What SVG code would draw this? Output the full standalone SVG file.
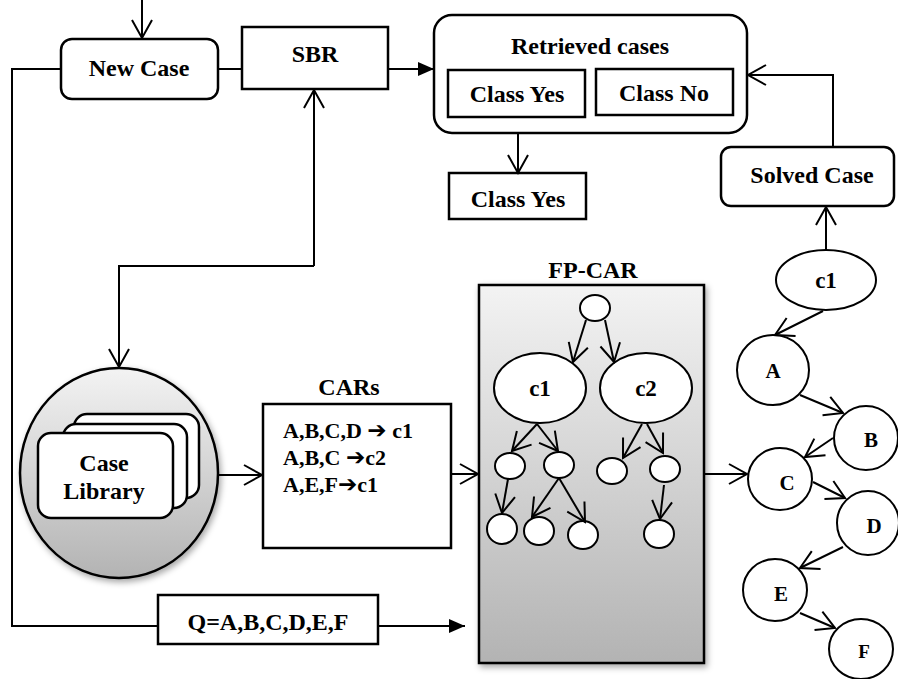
<svg xmlns="http://www.w3.org/2000/svg" width="898" height="679" viewBox="0 0 898 679">
  <style>
    .box { fill: #fff; stroke: #000; stroke-width: 2.5; }
    .node { fill: #fff; stroke: #000; stroke-width: 2; }
    .lbl { font-family: "Liberation Serif", "Times New Roman", serif; font-weight: bold; font-size: 24px; fill: #000; text-anchor: middle; }
    .rule { font-family: "Liberation Serif", "Times New Roman", serif; font-weight: bold; font-size: 22px; fill: #000; }
    .arw { font-family: "DejaVu Sans", sans-serif; font-weight: bold; font-size: 23px; }
    .cl { font-family: "Liberation Serif", "Times New Roman", serif; font-weight: bold; font-size: 21px; fill: #000; text-anchor: middle; }
    .wire { fill: none; stroke: #000; stroke-width: 2; }
    .open { marker-end: url(#vee); }
    .solid { marker-end: url(#tri); }
  </style>
  <defs>
    <marker id="vee" markerUnits="userSpaceOnUse" markerWidth="24" markerHeight="26" refX="20" refY="12" orient="auto" overflow="visible">
      <path d="M2,2 L20,12 L2,22" fill="none" stroke="#000" stroke-width="2"/>
    </marker>
    <marker id="tri" markerUnits="userSpaceOnUse" markerWidth="18" markerHeight="16" refX="16" refY="8" orient="auto" overflow="visible">
      <path d="M0,1 L16,8 L0,15 Z" fill="#000"/>
    </marker>
    <linearGradient id="grayV" x1="0" y1="0" x2="0" y2="1">
      <stop offset="0" stop-color="#f3f3f3"/>
      <stop offset="1" stop-color="#b3b3b3"/>
    </linearGradient>
    <filter id="shadow" x="-20%" y="-20%" width="140%" height="140%">
      <feDropShadow dx="2" dy="3" stdDeviation="3" flood-color="#000" flood-opacity="0.35"/>
    </filter>
  </defs>

  <g id="new-case">
    <rect class="box" x="61" y="39" width="157" height="60" rx="11"/>
    <text class="lbl" x="139" y="76">New Case</text>
  </g>

  <g id="sbr">
    <rect class="box" x="242" y="27" width="146" height="62"/>
    <text class="lbl" x="315" y="62">SBR</text>
  </g>

  <g id="retrieved-cases">
    <rect class="box" x="434" y="15" width="313" height="118" rx="18"/>
    <text class="lbl" x="590" y="54">Retrieved cases</text>
    <rect class="box" x="448" y="70" width="137" height="47"/>
    <text class="lbl" x="517" y="102">Class Yes</text>
    <rect class="box" x="596" y="69" width="137" height="46"/>
    <text class="lbl" x="664" y="101">Class No</text>
  </g>

  <g id="class-yes">
    <rect class="box" x="449" y="173" width="137" height="46"/>
    <text class="lbl" x="518" y="207">Class Yes</text>
  </g>

  <g id="solved-case">
    <rect class="box" x="721" y="147" width="173" height="59" rx="10"/>
    <text class="lbl" x="812" y="183">Solved Case</text>
  </g>

  <g id="case-library">
    <ellipse cx="119" cy="473" rx="99" ry="105" fill="url(#grayV)" stroke="#000" stroke-width="2.5" filter="url(#shadow)"/>
    <rect class="box" x="74" y="414" width="125" height="84" rx="13"/>
    <rect class="box" x="63" y="424" width="124" height="84" rx="13"/>
    <rect class="box" x="38" y="433" width="135" height="85" rx="13"/>
    <text class="lbl" x="104" y="471">Case</text>
    <text class="lbl" x="104" y="499">Library</text>
  </g>

  <g id="cars">
    <text class="lbl" x="349" y="395">CARs</text>
    <rect class="box" x="263" y="404" width="188" height="144"/>
    <text class="rule" x="283" y="438">A,B,C,D <tspan class="arw">➔</tspan> c1</text>
    <text class="rule" x="283" y="465">A,B,C  <tspan class="arw">➔</tspan>c2</text>
    <text class="rule" x="283" y="492">A,E,F<tspan class="arw">➔</tspan>c1</text>
  </g>

  <g id="query">
    <rect class="box" x="158" y="595" width="220" height="49"/>
    <text class="lbl" x="268" y="630">Q=A,B,C,D,E,F</text>
  </g>

  <g id="fp-car">
    <text class="lbl" x="593" y="278">FP-CAR</text>
    <rect x="479" y="285" width="225" height="378" fill="url(#grayV)" stroke="#000" stroke-width="2.5" filter="url(#shadow)"/>
    <ellipse class="node" cx="595" cy="308" rx="15" ry="13"/>
    <ellipse class="node" cx="540" cy="388" rx="46" ry="35"/>
    <text class="cl" x="540" y="396" style="font-size:23px">c1</text>
    <ellipse class="node" cx="646" cy="388" rx="46" ry="35"/>
    <text class="cl" x="646" y="396" style="font-size:23px">c2</text>
    <ellipse class="node" cx="510" cy="466" rx="15" ry="13"/>
    <ellipse class="node" cx="559" cy="465" rx="15" ry="13"/>
    <ellipse class="node" cx="612" cy="471" rx="15" ry="13"/>
    <ellipse class="node" cx="665" cy="469" rx="15" ry="13"/>
    <ellipse class="node" cx="502" cy="529" rx="15" ry="15"/>
    <ellipse class="node" cx="539" cy="531" rx="15" ry="14"/>
    <ellipse class="node" cx="583" cy="535" rx="15" ry="14"/>
    <ellipse class="node" cx="659" cy="534" rx="15" ry="14"/>
  </g>

  <g id="chain-c1">
    <ellipse class="node" cx="826" cy="280" rx="50" ry="30"/>
    <text class="cl" x="826" y="288" style="font-size:23px">c1</text>
  </g>
  <g id="chain-a">
    <ellipse class="node" cx="773" cy="370" rx="36" ry="35"/>
    <text class="cl" x="773" y="378">A</text>
  </g>
  <g id="chain-b">
    <ellipse class="node" cx="866" cy="438" rx="32" ry="32"/>
    <text class="cl" x="871" y="447">B</text>
  </g>
  <g id="chain-c">
    <ellipse class="node" cx="780" cy="479" rx="32" ry="31"/>
    <text class="cl" x="787" y="490">C</text>
  </g>
  <g id="chain-d">
    <ellipse class="node" cx="868" cy="523" rx="31" ry="32"/>
    <text class="cl" x="874" y="533">D</text>
  </g>
  <g id="chain-e">
    <ellipse class="node" cx="775" cy="590" rx="32" ry="31"/>
    <text class="cl" x="781" y="601">E</text>
  </g>
  <g id="chain-f">
    <ellipse class="node" cx="861" cy="649" rx="32" ry="30"/>
    <text class="cl" x="864" y="658" style="font-size:19px">F</text>
  </g>

  <!-- connectors, drawn last so the tree edges sit on top of the shaded panel -->
  <g id="connectors">
    <path class="wire open" d="M142,0 V38"/>
    <path class="wire" d="M218,69 H242"/>
    <path class="wire" d="M61,69 H12 V626 H158"/>
    <path class="wire solid" d="M378,626 H465"/>
    <path class="wire solid" d="M388,69 H434"/>
    <path class="wire open" d="M314,266 V90"/>
    <path class="wire open" d="M314,266 H119 V367"/>
    <path class="wire open" d="M518,133 V173"/>
    <path class="wire open" d="M833,147 V75 H748"/>
    <path class="wire open" d="M826,250 V207"/>
    <path class="wire open" d="M218,475 H262"/>
    <path class="wire open" d="M451,474 H478"/>
    <path class="wire open" d="M704,474 H747"/>
    <!-- FP-CAR tree edges -->
    <path class="wire open" d="M586,320 L573,362"/>
    <path class="wire open" d="M605,320 L614,362"/>
    <path class="wire open" d="M537,424 L512,451"/>
    <path class="wire open" d="M537,424 L558,451"/>
    <path class="wire open" d="M642,424 L623,458"/>
    <path class="wire open" d="M647,424 L663,453"/>
    <path class="wire open" d="M508,479 L502,513"/>
    <path class="wire open" d="M559,478 L532,517"/>
    <path class="wire open" d="M559,478 L585,522"/>
    <path class="wire open" d="M664,485 L660,519"/>
    <!-- class chain edges -->
    <path class="wire open" d="M823,311 L775,335"/>
    <path class="wire open" d="M800,395 L843,413"/>
    <path class="wire open" d="M833,438 L805,457"/>
    <path class="wire open" d="M813,482 L845,498"/>
    <path class="wire open" d="M843,547 L800,568"/>
    <path class="wire open" d="M800,613 L835,628"/>
  </g>
</svg>
